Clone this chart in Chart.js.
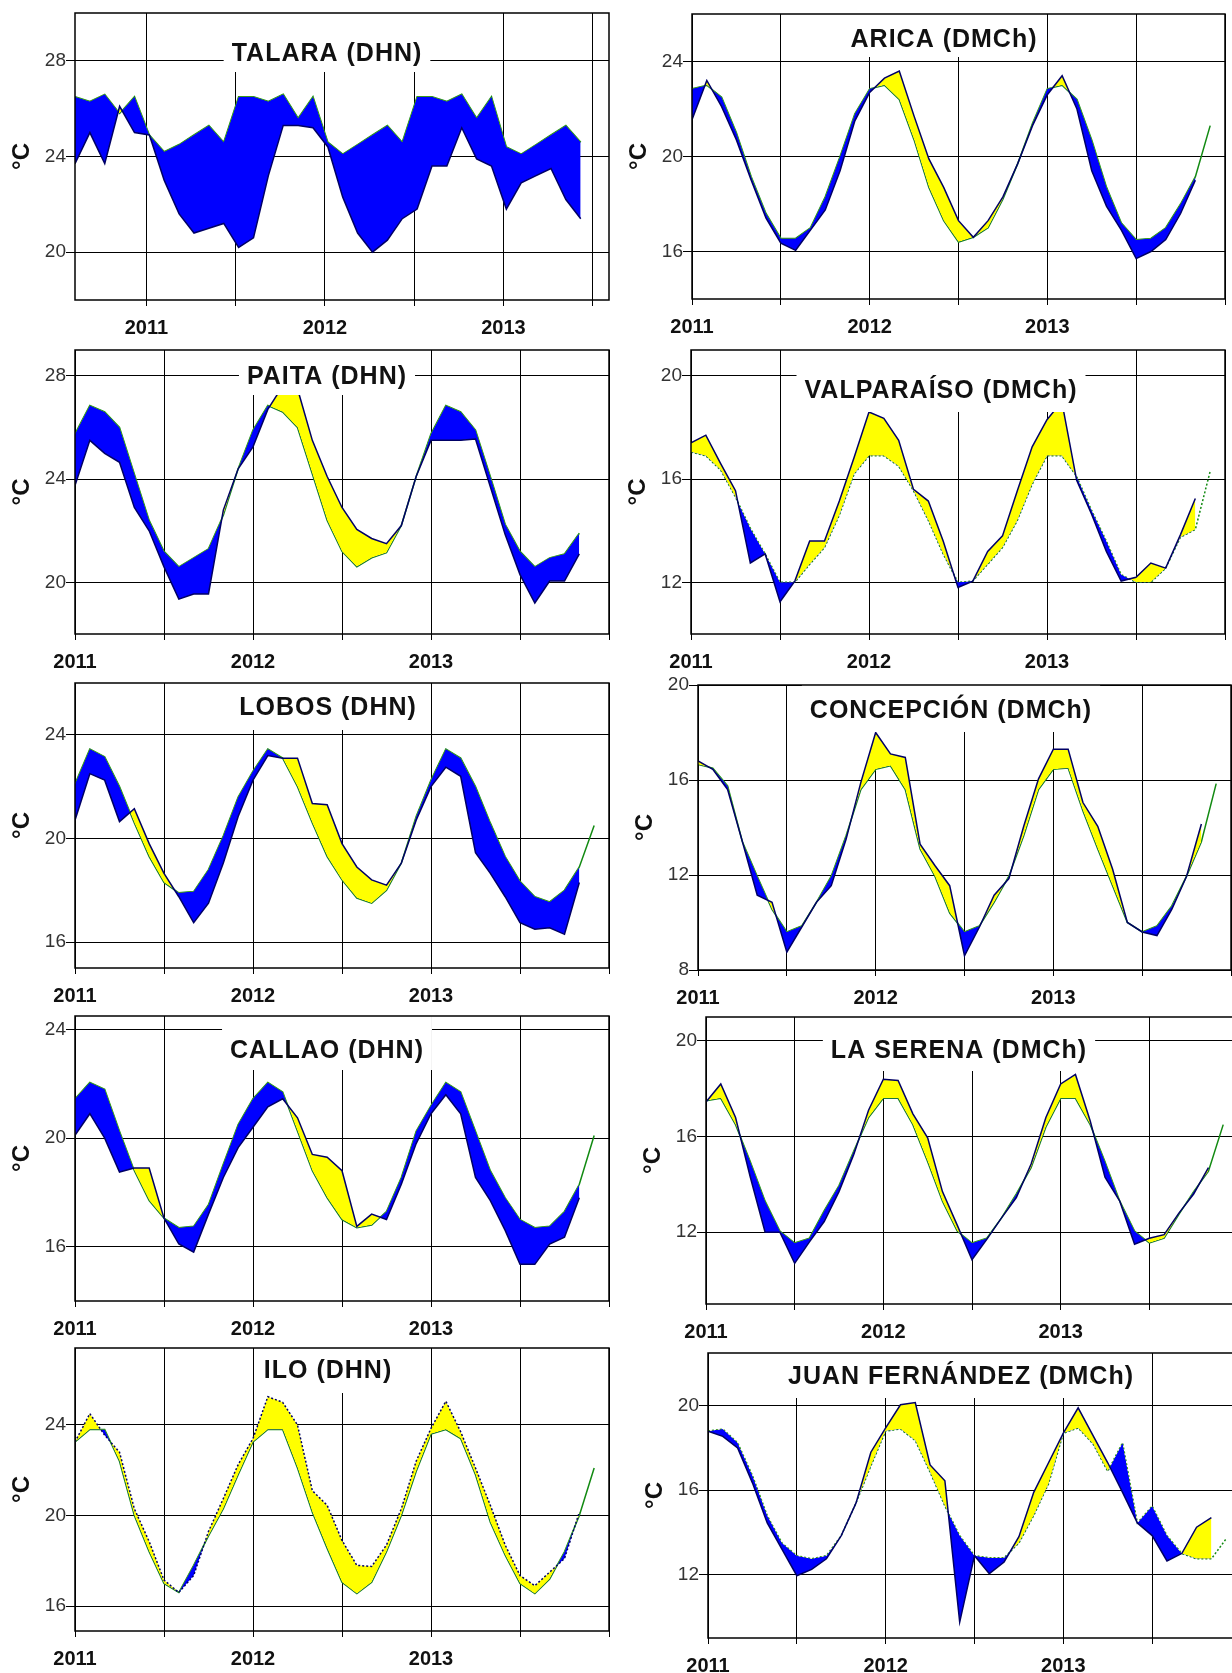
<!DOCTYPE html>
<html>
<head>
<meta charset="utf-8">
<title>TSM estaciones costeras 2011-2013</title>
<script src="https://cdn.jsdelivr.net/npm/chart.js@4.4.1/dist/chart.umd.min.js"></script>
<style>
  html, body { margin: 0; padding: 0; background: #fff; }
  body { width: 1232px; height: 1673px; position: relative; overflow: hidden; }
  .panel { position: absolute; }
</style>
</head>
<body>
<script>
// x positions: months counted from Jan 2011 (0 = 2011.0)
const monthsX = [0,1,2,3,4,5,6,7,8,9,10,11,12,13,14,15,16,17,18,19,20,21,22,23,24,25,26,27,28,29,30,31,32,33,34,35];
const talaraX = [-4.8,-3.8,-2.8,-1.8,-0.8,0.2,1.2,2.2,3.2,4.2,5.2,6.2,7.2,8.2,9.2,10.2,11.2,12.2,13.2,14.2,15.2,16.2,17.2,18.2,19.2,20.2,21.2,22.2,23.2,24.2,25.2,26.2,27.2,28.2,29.2];

const halfYearTicks = [0,6,12,18,24,30,36];
const halfYearLabels = ['2011','','2012','','2013','',''];
const talaraTicks = [0,6,12,18,24,30];
const talaraLabels = ['2011','','2012','','2013',''];

const talaraYTicks = [20,24,28];
const aricaYTicks = [16,20,24];
const paitaYTicks = [20,24,28];
const valpYTicks = [12,16,20];
const lobosYTicks = [16,20,24];
const concYTicks = [8,12,16,20];
const callaoYTicks = [16,20,24];
const serenaYTicks = [12,16,20];
const iloYTicks = [16,20,24];
const jfYTicks = [12,16,20];

// sea surface temperature (°C): observed and climatology
const talaraObs  = [23.7,25.0,23.7,26.1,25.0,24.9,23.0,21.6,20.8,21.0,21.2,20.2,20.6,23.2,25.3,25.3,25.2,24.4,22.3,20.8,20.0,20.5,21.4,21.8,23.6,23.6,25.2,23.9,23.6,21.8,22.9,23.2,23.5,22.2,21.4];
const talaraClim = [26.5,26.3,26.6,25.8,26.5,24.9,24.2,24.5,24.9,25.3,24.6,26.5,26.5,26.3,26.6,25.6,26.5,24.6,24.1,24.5,24.9,25.3,24.6,26.5,26.5,26.3,26.6,25.6,26.5,24.4,24.1,24.5,24.9,25.3,24.6];

const aricaObs  = [21.55,23.2,22.1,20.7,19.0,17.4,16.35,16.05,16.9,17.75,19.4,21.5,22.7,23.3,23.6,21.7,19.9,18.7,17.3,16.6,17.3,18.3,19.7,21.3,22.6,23.4,22.0,19.4,17.9,16.9,15.7,16.0,16.5,17.6,19.0,null];
const aricaClim = [22.85,23.0,22.5,21.0,19.15,17.6,16.55,16.55,17.0,18.3,20.0,21.8,22.85,23.0,22.4,20.7,18.7,17.3,16.4,16.6,17.0,18.2,19.7,21.4,22.85,23.0,22.4,20.7,18.7,17.2,16.5,16.55,17.0,18.0,19.15,21.3];

const paitaObs  = [23.75,25.5,25.0,24.65,22.9,22.0,20.6,19.35,19.55,19.55,22.8,24.4,25.25,26.7,27.6,27.5,25.5,24.1,22.9,22.05,21.7,21.5,22.2,24.1,25.5,25.5,25.5,25.55,23.7,21.85,20.3,19.2,20.05,20.05,21.1];
const paitaClim = [25.75,26.85,26.6,26.0,24.2,22.4,21.2,20.6,20.95,21.3,22.6,24.4,25.9,26.85,26.6,26.0,24.2,22.4,21.2,20.6,20.95,21.15,22.2,24.1,25.75,26.85,26.6,25.9,24.1,22.25,21.2,20.6,20.95,21.1,21.9];

const valpObs  = [17.4,17.7,16.6,15.55,12.75,13.1,11.25,12.05,13.6,13.6,15.15,16.85,18.6,18.35,17.5,15.6,15.15,13.6,11.8,12.05,13.2,13.8,15.55,17.25,18.3,19.0,15.95,14.65,13.2,12.05,12.2,12.75,12.55,13.85,15.25,null];
const valpClim = [17.05,16.9,16.35,15.3,14.1,13.1,12.0,12.0,12.7,13.35,14.6,16.2,16.9,16.9,16.5,15.55,14.4,13.1,12.0,12.05,12.7,13.35,14.4,15.8,16.9,16.9,16.1,14.8,13.6,12.3,12.0,12.0,12.55,13.75,14.05,16.3];

const lobosObs  = [20.7,22.5,22.25,20.65,21.15,19.8,18.65,17.75,16.75,17.5,19.05,20.85,22.25,23.2,23.1,23.1,21.35,21.3,19.8,18.9,18.4,18.2,19.05,20.7,22.0,22.75,22.4,19.45,18.65,17.75,16.75,16.5,16.55,16.3,18.3,null];
const lobosClim = [22.1,23.45,23.15,22.0,20.6,19.3,18.3,17.9,17.95,18.8,20.1,21.6,22.6,23.45,23.1,22.0,20.6,19.3,18.4,17.7,17.5,18.0,19.05,20.85,22.25,23.45,23.1,22.0,20.6,19.3,18.35,17.75,17.55,18.0,18.9,20.5];

const concObs  = [16.8,16.45,15.6,13.4,11.15,10.85,8.75,9.8,10.85,11.55,13.5,15.9,18.0,17.1,16.95,13.3,12.4,11.55,8.6,9.8,11.15,11.85,14.05,16.05,17.3,17.3,15.05,14.05,12.25,10.0,9.6,9.45,10.55,11.95,14.15,null];
const concClim = [16.65,16.5,15.75,13.4,11.95,10.55,9.6,9.85,10.85,11.95,13.65,15.6,16.45,16.6,15.6,13.1,11.95,10.4,9.6,9.85,10.85,11.95,13.65,15.6,16.45,16.5,14.7,13.1,11.55,10.0,9.6,9.85,10.7,11.95,13.4,15.85];

const callaoObs  = [20.1,20.9,20.0,18.75,18.9,18.9,17.05,16.1,15.8,17.2,18.55,19.65,20.4,21.15,21.45,20.75,19.4,19.3,18.8,16.75,17.2,17.0,18.3,19.8,20.9,21.6,20.9,18.55,17.7,16.6,15.35,15.35,16.1,16.35,17.8,null];
const callaoClim = [21.45,22.05,21.8,20.25,18.8,17.7,17.05,16.7,16.75,17.55,19.05,20.5,21.45,22.05,21.7,20.25,18.8,17.8,17.0,16.7,16.8,17.3,18.55,20.25,21.2,22.05,21.7,20.25,18.8,17.8,17.0,16.7,16.75,17.3,18.3,20.1];

const serenaObs  = [17.45,18.2,16.8,14.3,12.0,12.0,10.7,11.6,12.45,13.7,15.25,17.1,18.4,18.35,16.95,15.95,13.7,12.3,10.85,11.7,12.6,13.45,14.85,16.8,18.2,18.6,16.65,14.3,13.3,11.5,11.75,11.9,12.8,13.6,14.7,null];
const serenaClim = [17.5,17.6,16.5,14.95,13.3,12.05,11.55,11.75,12.9,13.95,15.4,16.8,17.6,17.6,16.5,14.95,13.3,12.05,11.55,11.75,12.6,13.6,14.7,16.4,17.6,17.6,16.5,14.95,13.3,12.05,11.55,11.75,12.75,13.7,14.55,16.5];

const iloObs  = [23.25,24.5,23.55,22.8,20.3,18.85,17.15,16.6,17.35,19.3,20.75,22.25,23.4,25.25,25.0,24.0,21.1,20.45,18.9,17.8,17.75,18.7,20.3,22.4,23.85,25.05,23.7,22.1,20.45,18.7,17.35,16.9,17.5,18.1,20.15,null];
const iloClim = [23.25,23.8,23.8,22.4,20.0,18.4,17.0,16.6,17.8,19.1,20.3,21.8,23.25,23.8,23.8,22.1,20.15,18.55,17.05,16.55,17.05,18.4,20.0,21.95,23.6,23.8,23.4,21.8,19.7,18.25,17.0,16.55,17.2,18.4,20.0,22.1];

const jfObs  = [18.8,18.55,18.0,16.35,14.45,13.2,11.95,12.25,12.75,13.85,15.4,17.8,18.95,20.05,20.15,17.2,16.45,9.75,12.9,12.05,12.6,13.8,15.9,17.3,18.7,19.9,18.6,17.3,15.9,14.45,13.85,12.65,13.0,14.25,14.7,null];
const jfClim = [18.8,18.9,18.25,16.7,14.8,13.5,12.9,12.75,12.9,13.85,15.4,17.15,18.8,18.9,18.35,16.85,15.25,13.85,12.9,12.8,12.8,13.5,14.8,16.3,18.7,18.95,18.2,16.9,18.25,14.45,15.25,13.85,13.0,12.75,12.75,13.7];

// panel layout (page pixels)
const panels = [
  { title: 'TALARA (DHN)', x: talaraX, obs: talaraObs, clim: talaraClim, xTicks: talaraTicks, xLabels: talaraLabels,
    xMin: -4.8, xMax: 31.1, yMin: 18, yMax: 30, yTicks: talaraYTicks, col: 0, box: [75, 609, 13, 300], tx: 327, tb: 61, wb: 72 },
  { title: 'ARICA (DMCh)', x: monthsX, obs: aricaObs, clim: aricaClim, xTicks: halfYearTicks, xLabels: halfYearLabels,
    xMin: 0, xMax: 36, yMin: 14, yMax: 26, yTicks: aricaYTicks, col: 616, box: [692, 1225, 14, 299], tx: 944, tb: 47, wb: 57 },
  { title: 'PAITA (DHN)', x: monthsX, obs: paitaObs, clim: paitaClim, xTicks: halfYearTicks, xLabels: halfYearLabels,
    xMin: 0, xMax: 36, yMin: 18, yMax: 29, yTicks: paitaYTicks, col: 0, box: [75, 609, 350, 634], tx: 327, tb: 384, wb: 395 },
  { title: 'VALPARAÍSO (DMCh)', x: monthsX, obs: valpObs, clim: valpClim, xTicks: halfYearTicks, xLabels: halfYearLabels, climDash: true,
    xMin: 0, xMax: 36, yMin: 10, yMax: 21, yTicks: valpYTicks, col: 616, box: [691, 1225, 350, 634], tx: 941, tb: 398, wb: 412 },
  { title: 'LOBOS (DHN)', x: monthsX, obs: lobosObs, clim: lobosClim, xTicks: halfYearTicks, xLabels: halfYearLabels,
    xMin: 0, xMax: 36, yMin: 15, yMax: 26, yTicks: lobosYTicks, col: 0, box: [75, 609, 683, 968], tx: 328, tb: 715, wb: 730 },
  { title: 'CONCEPCIÓN (DMCh)', x: monthsX, obs: concObs, clim: concClim, xTicks: halfYearTicks, xLabels: halfYearLabels,
    xMin: 0, xMax: 36, yMin: 8, yMax: 20, yTicks: concYTicks, col: 616, box: [698, 1231, 685, 970], tx: 951, tb: 718, wb: 732 },
  { title: 'CALLAO (DHN)', x: monthsX, obs: callaoObs, clim: callaoClim, xTicks: halfYearTicks, xLabels: halfYearLabels,
    xMin: 0, xMax: 36, yMin: 14, yMax: 24.5, yTicks: callaoYTicks, col: 0, box: [75, 609, 1016, 1301], tx: 327, tb: 1058, wb: 1070 },
  { title: 'LA SERENA (DMCh)', x: monthsX, obs: serenaObs, clim: serenaClim, xTicks: halfYearTicks, xLabels: halfYearLabels,
    xMin: 0, xMax: 36, yMin: 9, yMax: 21, yTicks: serenaYTicks, col: 616, box: [706, 1238, 1017, 1304], tx: 959, tb: 1058, wb: 1071 },
  { title: 'ILO (DHN)', x: monthsX, obs: iloObs, clim: iloClim, xTicks: halfYearTicks, xLabels: halfYearLabels, obsDash: true,
    xMin: 0, xMax: 36, yMin: 14.9, yMax: 27.4, yTicks: iloYTicks, col: 0, box: [75, 609, 1348, 1631], tx: 328, tb: 1378, wb: 1393 },
  { title: 'JUAN FERNÁNDEZ (DMCh)', x: monthsX, obs: jfObs, clim: jfClim, xTicks: halfYearTicks, xLabels: halfYearLabels, climDash: true,
    xMin: 0, xMax: 36, yMin: 9, yMax: 22.5, yTicks: jfYTicks, col: 616, box: [708, 1241, 1353, 1638], tx: 961, tb: 1384, wb: 1398 }
];

// right padding must exceed the x tick padding, or Chart.js shrinks the plot
const PAD_TOP = 12, PAD_RIGHT = 16, X_AXIS_H = 42;

// white title box over the plot + frame
const panelDecor = {
  id: 'panelDecor',
  afterDraw(chart, args, opts) {
    const { ctx, chartArea: a } = chart;
    ctx.save();
    ctx.font = 'bold 25px "Liberation Sans", Arial, sans-serif';
    ctx.letterSpacing = '1px';
    const w = ctx.measureText(opts.text).width;
    ctx.fillStyle = '#fff';
    ctx.fillRect(opts.cx - w / 2 - 8, a.top, w + 16, opts.bottom - a.top);
    ctx.fillStyle = '#111';
    ctx.textAlign = 'center';
    ctx.textBaseline = 'alphabetic';
    ctx.fillText(opts.text, opts.cx, opts.base);
    ctx.letterSpacing = '0px';
    ctx.strokeStyle = '#000';
    ctx.lineWidth = 1.5;
    ctx.strokeRect(a.left, a.top, a.right - a.left, a.bottom - a.top);
    ctx.restore();
  }
};

function drawPanel(p) {
  const axisW = p.box[0] - p.col;
  const top = p.box[2] - PAD_TOP;
  const div = document.createElement('div');
  div.className = 'panel';
  div.style.left = p.col + 'px';
  div.style.top = top + 'px';
  div.style.width = (p.box[1] - p.col + PAD_RIGHT) + 'px';
  div.style.height = (p.box[3] - p.box[2] + PAD_TOP + X_AXIS_H) + 'px';
  const cv = document.createElement('canvas');
  div.appendChild(cv);
  document.body.appendChild(div);

  new Chart(cv, {
    type: 'line',
    data: {
      datasets: [
        {
          data: p.obs.map((v, i) => ({ x: p.x[i], y: v })),
          borderColor: '#000066',
          borderWidth: 1.5,
          borderDash: p.obsDash ? [2, 2] : [],
          pointRadius: 0,
          tension: 0,
          fill: { target: 1, above: '#ffff00', below: '#0000ff' }
        },
        {
          data: p.clim.map((v, i) => ({ x: p.x[i], y: v })),
          borderColor: '#128a12',
          borderWidth: 1.5,
          borderDash: p.climDash ? [2, 2] : [],
          pointRadius: 0,
          tension: 0,
          fill: false
        }
      ]
    },
    options: {
      responsive: true,
      maintainAspectRatio: false,
      animation: false,
      layout: { padding: { top: PAD_TOP, right: PAD_RIGHT, left: 0, bottom: 0 } },
      plugins: {
        legend: { display: false },
        tooltip: { enabled: false },
        panelDecor: { text: p.title, cx: p.tx - p.col, base: p.tb - top, bottom: p.wb - top }
      },
      scales: {
        x: {
          type: 'linear',
          bounds: 'data',
          min: p.xMin,
          max: p.xMax,
          afterBuildTicks: s => { s.ticks = p.xTicks.map(v => ({ value: v })); },
          afterFit: s => { s.height = X_AXIS_H; },
          grid: { color: '#000', lineWidth: 1, drawTicks: true, tickLength: 6 },
          border: { display: false },
          ticks: {
            autoSkip: false,
            maxRotation: 0,
            padding: 10,
            color: '#111',
            font: { family: '"Liberation Sans", Arial, sans-serif', size: 20, weight: 'bold' },
            callback: (v, i) => p.xLabels[i]
          }
        },
        y: {
          type: 'linear',
          bounds: 'data',
          min: p.yMin,
          max: p.yMax,
          afterBuildTicks: s => { s.ticks = p.yTicks.map(v => ({ value: v })); },
          afterFit: s => { s.width = axisW; },
          grid: { color: '#000', lineWidth: 1, drawTicks: true, tickLength: 9 },
          border: { display: false },
          ticks: {
            padding: 0,
            color: '#333',
            font: { family: '"Liberation Sans", Arial, sans-serif', size: 19 }
          },
          title: {
            display: true,
            text: '°C',
            color: '#111',
            font: { family: '"Liberation Sans", Arial, sans-serif', size: 24, weight: 'bold' },
            padding: { top: axisW - 53 - 14.4, bottom: 0 }
          }
        }
      }
    },
    plugins: [panelDecor]
  });
}

panels.forEach(drawPanel);
</script>
</body>
</html>
